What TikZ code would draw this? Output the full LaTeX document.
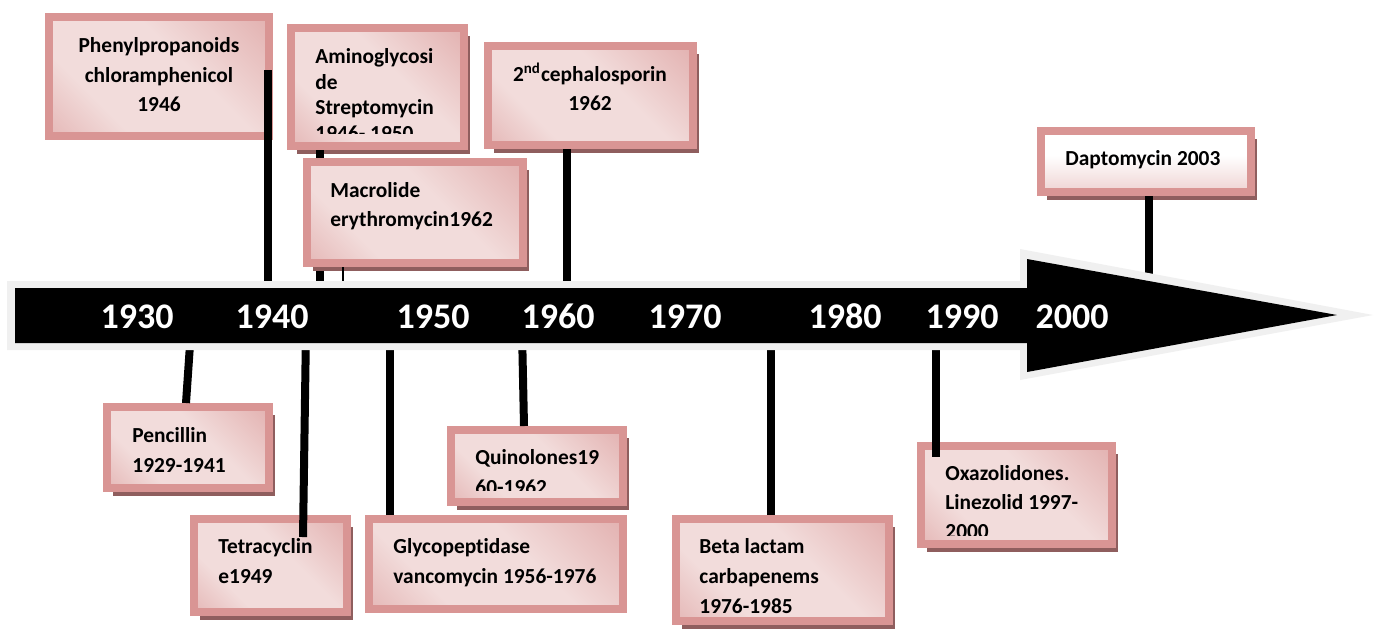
\documentclass[tikz,border=0pt]{standalone}
\usepackage{fontspec}
\setmainfont[RawFeature={-liga}]{Carlito}
\usetikzlibrary{shadows,fit}
\definecolor{pkframe}{HTML}{D99594}
\definecolor{pklight}{HTML}{F2DCDB}
\definecolor{pkmid}{HTML}{DA9A99}
\definecolor{pkshadow}{HTML}{8F5E5E}
\definecolor{arrowedge}{HTML}{F0F0F0}
\pgfdeclareverticalshading{pkband}{100bp}{color(0bp)=(pkmid); color(32bp)=(pklight); color(58bp)=(pklight); color(100bp)=(pkmid)}
\pgfdeclareverticalshading{pkfade}{100bp}{color(0bp)=(pkmid!70!pklight); color(55bp)=(white); color(100bp)=(white)}
\tikzset{
  pbox/.style={rectangle, shading=pkband, shading angle=-45, draw=pkframe, line width=4pt, inner sep=0pt},
  pshadow/.style={drop shadow={shadow xshift=3pt, shadow yshift=-4pt, fill=pkshadow, opacity=1}},
  btxt/.style={font=\fontsize{10.7}{12}\selectfont\bfseries, inner sep=0pt, anchor=base west, text=black},
  ctxt/.style={btxt, anchor=base},
  ytxt/.style={font=\fontsize{18}{20}\selectfont\bfseries, text=white, inner sep=0pt, anchor=base},
  conn/.style={line width=4pt, black},
  thinconn/.style={line width=1pt, black}
}
\begin{document}
\begin{tikzpicture}[x=0.5pt,y=-0.5pt]
\useasboundingbox (0,0) rectangle (1374,628);
\fill[white] (0,0) rectangle (1374,628);

% ---------- boxes ----------
\node[pbox, fit={(49,17) (269,136)}] (b1) {};
\node[pbox, pshadow, fit={(291,28) (464,146)}] (b2) {};
\node[pbox, pshadow, fit={(488,46) (693,145)}] (b4) {};
\node[pbox, pshadow, shading=pkfade, shading angle=0, fit={(1041,131) (1251,192)}] (b5) {};
\node[pbox, pshadow, fit={(107,407) (269,488)}] (b6) {};
\node[pbox, pshadow, fit={(194,519) (347,612)}] (b7) {};
\node[pbox, fit={(369,519) (623,609)}] (b8) {};
\node[pbox, pshadow, fit={(451,430) (623,502)}] (b9) {};
\node[pbox, pshadow, fit={(676,519) (889,621)}] (b10) {};
\node[pbox, pshadow, fit={(921,446) (1112,544)}] (b11) {};

% ---------- texts ----------
\node[ctxt] (t1a) at (159,52) {Phenylpropanoids};
\node[ctxt] (t1b) at (159,82) {chloramphenicol};
\node[ctxt] (t1c) at (159,111) {1946};

\begin{scope}
\clip (295,33) rectangle (460,133);
\node[btxt] (t2a) at (315,63) {Aminoglycosi};
\node[btxt] (t2b) at (315,89) {de};
\node[btxt] (t2c) at (315,114) {Streptomycin};
\node[btxt] (t2d) at (315,140) {1946- 1950};
\end{scope}

\node[ctxt] (t4a) at (590,81) {2\textsuperscript{nd}cephalosporin};
\node[ctxt] (t4b) at (590,110) {1962};

\node[btxt] (t5a) at (1065,165) {Daptomycin 2003};

\node[btxt] (t6a) at (132,442) {Pencillin};
\node[btxt] (t6b) at (132,472) {1929-1941};

\node[btxt] (t7a) at (218,553) {Tetracyclin};
\node[btxt] (t7b) at (218,583) {e1949};

\node[btxt] (t8a) at (393,553) {Glycopeptidase};
\node[btxt] (t8b) at (393,583) {vancomycin 1956-1976};

\begin{scope}
\clip (456,433) rectangle (618,490);
\node[btxt] (t9a) at (475,464) {Quinolones19};
\node[btxt] (t9b) at (475,494) {60-1962};
\end{scope}

\node[btxt] (t10a) at (699,553) {Beta lactam};
\node[btxt] (t10b) at (699,583) {carbapenems};
\node[btxt] (t10c) at (699,613) {1976-1985};

\begin{scope}
\clip (925,449) rectangle (1108,535);
\node[btxt] (t11a) at (945,480) {Oxazolidones.};
\node[btxt] (t11b) at (945,509) {Linezolid 1997-};
\node[btxt] (t11c) at (945,538) {2000};
\end{scope}

% ---------- connector coordinates on the time arrow ----------
\coordinate (a1) at (268,300);
\coordinate (a2) at (320,300);
\coordinate (a3) at (343,300);
\coordinate (a4) at (567,300);
\coordinate (a5) at (1149,300);
\coordinate (a6) at (191,330);
\coordinate (a7) at (306,330);
\coordinate (a8) at (390,330);
\coordinate (a9) at (522,330);
\coordinate (a10) at (771,330);
\coordinate (a11) at (936,330);
\coordinate (c1) at (268,70);
\coordinate (x6) at (186,0);
\coordinate (c7) at (303,537);
\coordinate (x8) at (390,0);
\coordinate (x9) at (524,0);
\coordinate (x10) at (771,0);
\coordinate (c11) at (936,457);

% ---------- connectors ----------
\draw[conn] (b2.south -| a2) -- (a2);
\node[pbox, pshadow, fit={(307,162) (523,263)}] (b3) {};
\node[btxt] (t3a) at (330,197) {Macrolide};
\node[btxt] (t3b) at (330,226) {erythromycin1962};
\draw[thinconn] (b3.south -| a3) -- (a3);
\draw[conn] (c1) -- (a1);
\draw[conn] (b4.south -| a4) -- (a4);
\draw[conn] (b5.south -| a5) -- (a5);
\draw[conn] (a6) -- (x6 |- b6.north);
\draw[conn] (a7) -- (c7);
\draw[conn] (a8) -- (x8 |- b8.north);
\draw[conn] (a9) -- (x9 |- b9.north);
\draw[conn] (a10) -- (x10 |- b10.north);
\draw[conn] (a11) -- (c11);

% ---------- time arrow ----------
\fill[arrowedge] (7,281) -- (1020,281) -- (1020,249) -- (1373,315) -- (1020,380) -- (1020,350) -- (7,350) -- cycle;
\fill[black] (15,288) -- (1027,288) -- (1027,259) -- (1337,315) -- (1027,372) -- (1027,343) -- (15,343) -- cycle;

\node[ytxt] (y1930) at (137,328) {1930};
\node[ytxt] (y1940) at (272,328) {1940};
\node[ytxt] (y1950) at (433,328) {1950};
\node[ytxt] (y1960) at (558,328) {1960};
\node[ytxt] (y1970) at (685,328) {1970};
\node[ytxt] (y1980) at (845,328) {1980};
\node[ytxt] (y1990) at (962,328) {1990};
\node[ytxt] (y2000) at (1072,328) {2000};
\end{tikzpicture}
\end{document}
